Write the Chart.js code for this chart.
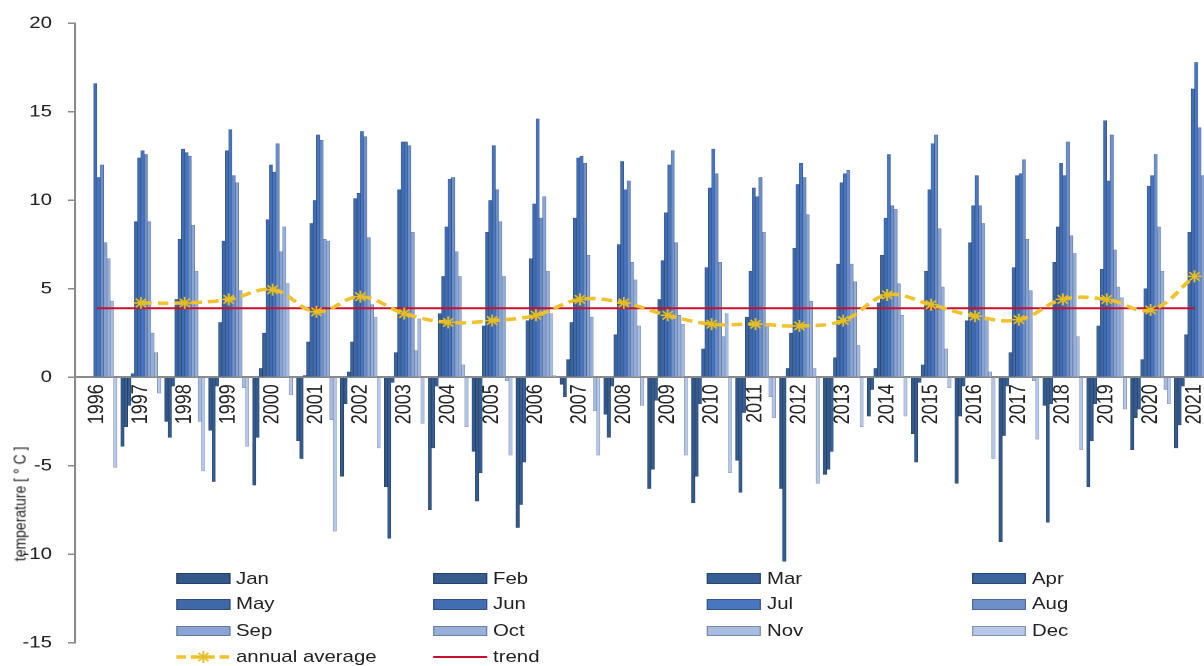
<!DOCTYPE html>
<html>
<head>
<meta charset="utf-8">
<script src="https://cdn.jsdelivr.net/npm/chart.js@4.4.1/dist/chart.umd.min.js"></script>
<style>
html,body{margin:0;padding:0;background:#fff;width:1204px;height:666px;overflow:hidden;}
#wrap{position:absolute;left:0;top:0;width:1030px;height:666px;transform:scaleX(1.2);transform-origin:0 0;font-family:"Liberation Sans",Arial,sans-serif;color:#222;}
#c{position:absolute;left:0;top:0;}
.lt{position:absolute;font-size:17px;line-height:20px;white-space:nowrap;color:#222;}
.sw{position:absolute;width:45px;height:10.5px;box-sizing:border-box;border:1px solid #4d5a6e;}
#ytitle{position:absolute;left:15.8px;top:504px;font-size:14px;white-space:nowrap;transform:translate(-50%,-50%) rotate(-90deg);color:#222;}
</style>
</head>
<body>
<div id="wrap">
  <canvas id="c" width="1030" height="666"></canvas>
  <div id="ytitle">temperature [ ° C ]</div>
  <div id="legend"></div>
</div>
<script>
const years = ['1996','1997','1998','1999','2000','2001','2002','2003','2004','2005','2006','2007','2008','2009','2010','2011','2012','2013','2014','2015','2016','2017','2018','2019','2020','2021'];
const monthNames = ['Jan','Feb','Mar','Apr','May','Jun','Jul','Aug','Sep','Oct','Nov','Dec'];

const jan = [null,-3.9,-2.5,-3.0,-6.1,-3.6,-5.6,-6.2,-7.5,-4.2,-8.5,-0.4,-2.1,-6.3,-7.1,-4.7,-6.3,-5.5,-2.2,-3.2,-6.0,-9.3,-1.6,-6.2,-4.1,-4.0];
const feb = [null,-2.8,-3.4,-5.9,-3.4,-4.6,-1.5,-9.1,-4.0,-7.0,-7.2,-1.1,-3.4,-5.2,-5.6,-6.5,-10.4,-5.2,-0.7,-4.8,-2.2,-3.3,-8.2,-3.6,-2.3,-2.7];
const mar = [null,-1.6,-0.5,-0.5,0.5,0.1,0.3,-0.3,-0.5,-5.4,-4.8,1.0,-0.5,-1.3,-1.5,-2.0,0.5,-4.2,0.5,-0.3,-0.5,-0.5,-1.5,-1.5,-1.8,-0.5];
const apr = [null,0.2,4.4,3.1,2.5,2.0,2.0,1.4,3.6,2.9,3.2,3.1,2.4,4.4,1.6,3.4,2.5,1.1,4.2,0.7,3.2,1.4,6.5,2.9,1.0,2.4];
const may = [null,8.8,7.8,7.7,8.9,8.7,10.1,10.6,5.7,8.2,6.7,9.0,7.5,6.6,6.2,6.0,7.3,6.4,6.9,6.0,7.6,6.2,8.5,6.1,5.0,8.2];
const jun = [16.6,12.4,12.9,12.8,12.0,10.0,10.4,13.3,8.5,10.0,9.8,12.4,12.2,9.3,10.7,10.7,10.9,11.0,9.0,10.6,9.7,11.4,12.1,14.5,10.8,16.3];
const jul = [11.3,12.8,12.7,14.0,11.6,13.7,13.9,13.3,11.2,13.1,14.6,12.5,10.6,12.0,12.9,10.2,12.1,11.5,12.6,13.2,11.4,11.5,11.4,11.1,11.4,17.8];
const aug = [12.0,12.6,12.5,11.4,13.2,13.4,13.6,13.1,11.3,10.6,9.0,12.1,11.1,12.8,11.5,11.3,11.3,11.7,9.7,13.7,9.7,12.3,13.3,13.7,12.6,14.1];
const sep = [7.6,8.8,8.6,11.0,7.1,7.8,7.9,8.2,7.1,8.8,10.2,6.9,6.5,7.6,6.5,8.2,9.2,6.4,9.5,8.4,8.7,7.8,8.0,7.2,8.5,11.4];
const oct = [6.7,2.5,6.0,4.9,8.5,7.7,4.1,1.5,5.7,5.7,6.0,3.4,5.5,3.5,2.3,2.9,4.3,5.4,5.3,5.1,3.2,4.9,7.0,5.1,6.0,null];
const nov = [4.3,1.4,-2.5,-0.6,5.3,-2.4,3.4,3.3,0.7,-0.2,3.6,-1.9,2.9,3.0,3.6,-1.1,0.5,1.8,3.5,1.6,0.3,-0.2,2.3,4.5,-0.7,null];
const dec = [-5.1,-0.9,-5.3,-3.9,-1.0,-8.7,-4.0,-2.6,-2.8,-4.4,0.1,-4.4,-1.6,-4.4,-5.4,-2.3,-6.0,-2.8,-2.2,-0.6,-4.6,-3.5,-4.1,-1.8,-1.5,null];

const annualAverage = [null,4.2,4.2,4.4,4.95,3.7,4.55,3.6,3.1,3.2,3.5,4.4,4.2,3.5,3.0,3.0,2.9,3.2,4.65,4.1,3.45,3.25,4.4,4.4,3.8,5.7];
const trend = [3.9,3.9,3.9,3.9,3.9,3.9,3.9,3.9,3.9,3.9,3.9,3.9,3.9,3.9,3.9,3.9,3.9,3.9,3.9,3.9,3.9,3.9,3.9,3.9,3.9,3.9];
const yTicks = [-15,-10,-5,0,5,10,15,20];

const monthData = [jan,feb,mar,apr,may,jun,jul,aug,sep,oct,nov,dec];
const colors = ['#33598b','#355b8f','#385f95','#3b639c','#3f68a8','#426db2','#4a76bf','#6f8fc9','#8aa4d3','#98afd9','#a8bbe0','#b6c7e8'];
const edgeColors = ['#263f63','#274266','#29456b','#2b4870','#2e4c7a','#304f82','#35578c','#4f6a96','#63799e','#6c80a3','#7a8ba9','#8594ae'];
const avgColor = '#f2c12e';
const trendColor = '#c8102e';

Chart.defaults.font.family = "'Liberation Sans', Arial, sans-serif";
Chart.defaults.color = '#222';

const datasets = [
  {type:'line', label:'annual average', data:annualAverage, order:0,
   borderColor:avgColor, borderWidth:3.5, borderDash:[9,5], tension:0.4,
   pointStyle:'star', pointRadius:6, pointBorderColor:'#e3bd22', pointBorderWidth:1.6,
   pointBackgroundColor:'#e3bd22', fill:false},
  {type:'line', label:'trend', data:trend, order:1,
   borderColor:trendColor, borderWidth:2, pointRadius:0, tension:0, fill:false}
];
monthData.forEach((arr,i)=>{
  datasets.push({type:'bar', label:monthNames[i], data:arr, order:2,
    backgroundColor:colors[i], borderColor:edgeColors[i], borderWidth:0.5,
    inflateAmount:0.25,
    categoryPercentage:0.911, barPercentage:1.0});
});

new Chart(document.getElementById('c'), {
  type:'bar',
  data:{labels:years, datasets:datasets},
  options:{
    responsive:false, animation:false, devicePixelRatio:2,
    layout:{padding:{left:0,right:16.3,top:23,bottom:22}},
    plugins:{legend:{display:false}, tooltip:{enabled:false}},
    scales:{
      x:{
        position:{y:0}, offset:true,
        grid:{display:true, drawOnChartArea:false, drawTicks:false, color:'rgba(0,0,0,0)'},
        border:{display:true, color:'#8a8a8a', width:2},
        ticks:{autoSkip:false, minRotation:90, maxRotation:90, padding:7, color:'#222', font:{size:18}}
      },
      y:{
        min:yTicks[0], max:yTicks[yTicks.length-1],
        afterBuildTicks:(s)=>{ s.ticks = yTicks.map(v=>({value:v})); },
        ticks:{padding:13.2, color:'#222', font:{size:17}},
        grid:{drawOnChartArea:false, drawTicks:true, tickLength:6, color:'#8a8a8a', lineWidth:1.5},
        border:{display:true, color:'#8a8a8a', width:2},
        afterFit:(s)=>{ s.width = 62.5; }
      }
    }
  }
});

// legend (HTML, inside the stretched wrapper)
const S = 1.2;
const colLeft = [176/S, 433/S, 707/S, 972/S];
const textGap = 60/S;
const rowY = [578.7, 604.3, 631, 657];
const lg = document.getElementById('legend');
const items = monthNames.map((m,i)=>({label:m, kind:'bar', color:colors[i], edge:edgeColors[i]}))
  .concat([{label:'annual average', kind:'avg'},{label:'trend', kind:'trend'}]);
items.forEach((it,idx)=>{
  const r = Math.floor(idx/4), c = idx%4;
  const x = colLeft[c], y = rowY[r];
  if (it.kind==='bar'){
    const d = document.createElement('div');
    d.className='sw'; d.style.left=x+'px'; d.style.top=(y-5.25)+'px';
    d.style.background=it.color; d.style.borderColor=it.edge;
    lg.appendChild(d);
  } else {
    const ns='http://www.w3.org/2000/svg';
    const svg=document.createElementNS(ns,'svg');
    svg.setAttribute('width','45'); svg.setAttribute('height','16');
    svg.style.position='absolute'; svg.style.left=x+'px'; svg.style.top=(y-8)+'px'; svg.style.overflow='visible';
    const ln=document.createElementNS(ns,'line');
    ln.setAttribute('x1','0');ln.setAttribute('y1','8');ln.setAttribute('x2','45');ln.setAttribute('y2','8');
    if(it.kind==='avg'){
      ln.setAttribute('stroke',avgColor);ln.setAttribute('stroke-width','3.5');ln.setAttribute('stroke-dasharray','8,4');
    } else {
      ln.setAttribute('stroke',trendColor);ln.setAttribute('stroke-width','2');
    }
    svg.appendChild(ln);
    if(it.kind==='avg'){
      const cx=22.5, cy=8, rr=6;
      [[0,-rr,0,rr],[-rr,0,rr,0],[-rr*0.7,-rr*0.7,rr*0.7,rr*0.7],[-rr*0.7,rr*0.7,rr*0.7,-rr*0.7]].forEach(p=>{
        const s=document.createElementNS(ns,'line');
        s.setAttribute('x1',cx+p[0]);s.setAttribute('y1',cy+p[1]);s.setAttribute('x2',cx+p[2]);s.setAttribute('y2',cy+p[3]);
        s.setAttribute('stroke','#e3bd22');s.setAttribute('stroke-width','1.6');
        svg.appendChild(s);
      });
    }
    lg.appendChild(svg);
  }
  const t=document.createElement('div');
  t.className='lt'; t.textContent=it.label; t.style.left=(x+textGap)+'px'; t.style.top=(y-10)+'px';
  lg.appendChild(t);
});
</script>
</body>
</html>
